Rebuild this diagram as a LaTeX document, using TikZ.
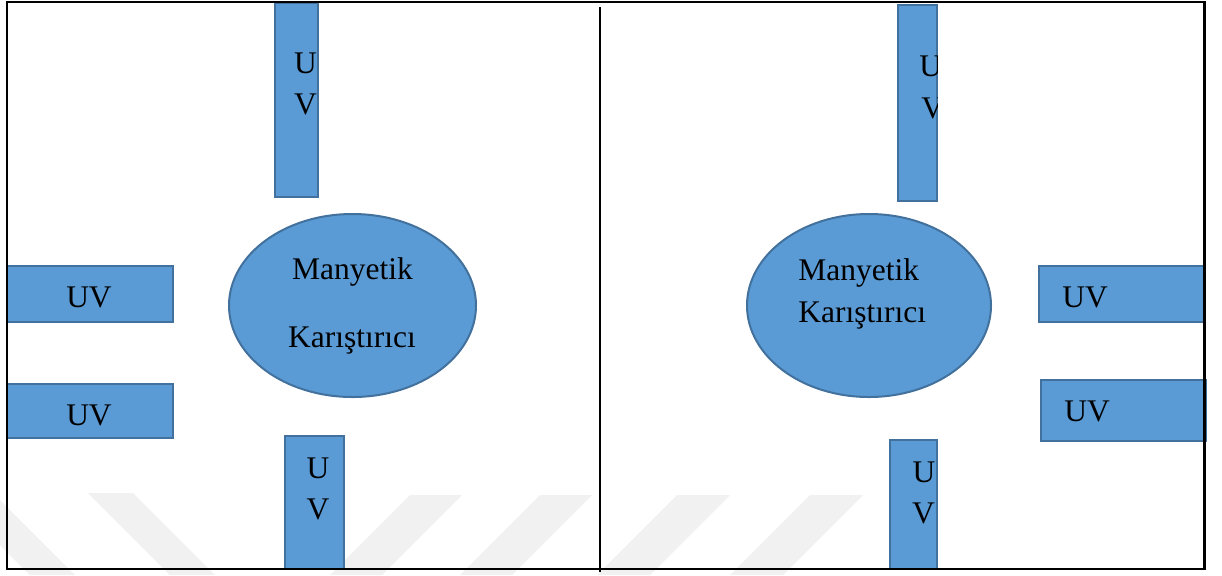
\documentclass[tikz,border=0pt]{standalone}
\usepackage{fontspec}
\setmainfont{Liberation Serif}
\usetikzlibrary{shapes.geometric}
\definecolor{uvfill}{HTML}{5B9BD5}
\definecolor{uvdraw}{HTML}{41719C}
\definecolor{wmgray}{HTML}{F1F1F1}
\begin{document}
\begin{tikzpicture}[x=0.5pt,y=-0.5pt,
  uvbox/.style={rectangle, draw=uvdraw, fill=uvfill, line width=1pt, inner sep=0pt},
  mixer/.style={ellipse, draw=uvdraw, fill=uvfill, line width=1pt, inner sep=0pt},
  lbl/.style={font=\fontsize{15.75}{18}\selectfont, inner sep=0pt, text=black},
  frameline/.style={line width=1.1pt, draw=black},
  wm/.style={fill=wmgray, draw=none}]
\useasboundingbox (0,0) rectangle (1222,575);
\fill[white] (0,0) rectangle (1222,575);

% watermark bands
\fill[wm] (-50,495) -- (-5,495) -- (75,575) -- (30,575) -- cycle;
\fill[wm] (88,493) -- (133,493) -- (215,575) -- (170,575) -- cycle;
\fill[wm] (410,495) -- (462,495) -- (382,575) -- (330,575) -- cycle;
\fill[wm] (540,495) -- (592,495) -- (512,575) -- (460,575) -- cycle;
\fill[wm] (677,495) -- (730,495) -- (650,575) -- (597,575) -- cycle;
\fill[wm] (810,495) -- (863,495) -- (783,575) -- (730,575) -- cycle;

% left panel
\node[uvbox, minimum width=21.5pt, minimum height=97pt] (lt) at (296.5,100) {};
\node[uvbox, minimum width=83pt, minimum height=28pt] (l1) at (90,294) {};
\node[uvbox, minimum width=83pt, minimum height=27pt] (l2) at (90,411) {};
\node[uvbox, minimum width=29.5pt, minimum height=66.5pt] (lb) at (314.5,502.5) {};
\node[mixer, minimum width=123.5pt, minimum height=91.5pt] (lm) at (352.5,305.5) {};

\node[lbl, anchor=base] (ltu) at (305.5,73) {U};
\node[lbl, anchor=base] (ltv) at (305.5,114) {V};
\node[lbl, anchor=base] (l1t) at (89,307) {UV};
\node[lbl, anchor=base] (l2t) at (89,425) {UV};
\node[lbl, anchor=base] (lm1) at (352.5,279) {Manyetik};
\node[lbl, anchor=base] (lm2) at (352,347) {Karıştırıcı};
\node[lbl, anchor=base] (lbu) at (318,478) {U};
\node[lbl, anchor=base] (lbv) at (318,519) {V};

% right panel
\node[uvbox, minimum width=19.5pt, minimum height=98pt] (rt) at (917.5,103) {};
\node[mixer, minimum width=122pt, minimum height=91.5pt] (rm) at (869,305.5) {};
\node[uvbox, minimum width=82.5pt, minimum height=28pt] (r1) at (1121.5,294) {};
\node[uvbox, minimum width=82.5pt, minimum height=30.5pt] (r2) at (1123.5,410.5) {};
\node[uvbox, minimum width=23.5pt, minimum height=64.5pt] (rb) at (913.5,504.5) {};

\begin{scope}
  \clip (898,5) rectangle (937.5,201);
  \node[lbl, anchor=base west] (rtu) at (919,76) {U};
  \node[lbl, anchor=base west] (rtv) at (921,118) {V};
\end{scope}
\node[lbl, anchor=base west] (rm1) at (798,280) {Manyetik};
\node[lbl, anchor=base west] (rm2) at (798,322) {Karıştırıcı};
\node[lbl, anchor=base west] (r1t) at (1062,307) {UV};
\node[lbl, anchor=base west] (r2t) at (1064,421) {UV};
\node[lbl, anchor=base] (rbu) at (924,482) {U};
\node[lbl, anchor=base] (rbv) at (923.5,523) {V};

% frame
\coordinate (tl) at (7,2);
\coordinate (tr) at (1204.5,2);
\coordinate (bl) at (7,569);
\coordinate (br) at (1204.5,569);
\coordinate (dt) at (600,7);
\coordinate (db) at (600,572);
\draw[frameline] (tl) -- (tr) -- (br) -- (bl) -- cycle;
\draw[frameline] (dt) -- (db);
\end{tikzpicture}
\end{document}
